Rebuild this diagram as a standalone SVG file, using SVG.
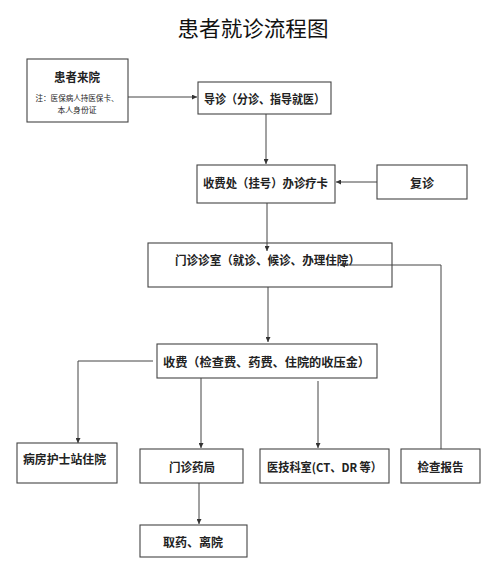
<svg xmlns="http://www.w3.org/2000/svg" width="500" height="574" viewBox="0 0 500 574">
<style>
.box{fill:#fff;stroke:#444;stroke-width:1.1}
.t{font-family:"Noto Sans CJK SC","Liberation Sans",sans-serif;font-size:12px;font-weight:bold;fill:#222;text-anchor:middle;dominant-baseline:central}
.n{font-family:"Noto Sans CJK SC","Liberation Sans",sans-serif;font-size:7.5px;fill:#222;text-anchor:middle;dominant-baseline:central}
.title{font-family:"Noto Sans CJK SC",sans-serif;font-size:21px;fill:#111;text-anchor:middle;dominant-baseline:central}
.c{fill:none;stroke:#444;stroke-width:1}
</style>
<defs>
<marker id="ah" viewBox="0 0 6 6" refX="6" refY="3" markerWidth="5" markerHeight="5" orient="auto" markerUnits="userSpaceOnUse">
<path d="M0,0 L6,3 L0,6 z" fill="#333"/>
</marker>
</defs>
<rect width="500" height="574" fill="#fff"/>
<text class="title" x="253" y="27" textLength="151" lengthAdjust="spacingAndGlyphs">患者就诊流程图</text>

<g id="n-arrive">
<rect class="box" x="27" y="59" width="101" height="63"/>
<text class="t" x="77" y="76" textLength="46" lengthAdjust="spacingAndGlyphs">患者来院</text>
<text class="n" x="77" y="97" textLength="83" lengthAdjust="spacingAndGlyphs">注：医保病人持医保卡、</text>
<text class="n" x="77" y="109" textLength="39" lengthAdjust="spacingAndGlyphs">本人身份证</text>
</g>
<g id="n-guide">
<rect class="box" x="198" y="82" width="133" height="32"/>
<text class="t" x="264.5" y="98" textLength="121" lengthAdjust="spacingAndGlyphs">导诊（分诊、指导就医）</text>
</g>
<g id="n-register">
<rect class="box" x="197" y="165" width="138" height="38"/>
<text class="t" x="265.5" y="182" textLength="125" lengthAdjust="spacingAndGlyphs">收费处（挂号）办诊疗卡</text>
</g>
<g id="n-revisit">
<rect class="box" x="377" y="165" width="90" height="34"/>
<text class="t" x="422" y="182">复诊</text>
</g>
<g id="n-clinic">
<rect class="box" x="148" y="243" width="244" height="44"/>
<text class="t" x="267.5" y="259" textLength="185" lengthAdjust="spacingAndGlyphs">门诊诊室（就诊、候诊、办理住院）</text>
</g>
<g id="n-pay">
<rect class="box" x="157" y="344" width="220" height="34"/>
<text class="t" x="266.5" y="361" textLength="207" lengthAdjust="spacingAndGlyphs">收费（检查费、药费、住院的收压金）</text>
</g>
<g id="n-ward">
<rect class="box" x="17" y="443" width="100" height="40"/>
<text class="t" x="64.5" y="458" textLength="83" lengthAdjust="spacingAndGlyphs">病房护士站住院</text>
</g>
<g id="n-pharmacy">
<rect class="box" x="140" y="449" width="103" height="34"/>
<text class="t" x="192" y="466" textLength="46" lengthAdjust="spacingAndGlyphs">门诊药局</text>
</g>
<g id="n-tech">
<rect class="box" x="260" y="449" width="129" height="34"/>
<text class="t" x="324.5" y="466" textLength="115" lengthAdjust="spacingAndGlyphs">医技科室(CT、DR 等）</text>
</g>
<g id="n-report">
<rect class="box" x="401" y="449" width="79" height="34"/>
<text class="t" x="440.5" y="466" textLength="46" lengthAdjust="spacingAndGlyphs">检查报告</text>
</g>
<g id="n-leave">
<rect class="box" x="140" y="525" width="107" height="32"/>
<text class="t" x="193" y="541" textLength="60" lengthAdjust="spacingAndGlyphs">取药、离院</text>
</g>

<g id="connectors">
<path class="c" d="M128,97 H197" marker-end="url(#ah)"/>
<path class="c" d="M266,114 V164" marker-end="url(#ah)"/>
<path class="c" d="M377,182 H336" marker-end="url(#ah)"/>
<path class="c" d="M267,203 V251" marker-end="url(#ah)"/>
<path class="c" d="M441,449 V265 H340" marker-end="url(#ah)"/>
<path class="c" d="M268,287 V342" marker-end="url(#ah)"/>
<path class="c" d="M153,361 H78 V443" marker-end="url(#ah)"/>
<path class="c" d="M201,378 V448" marker-end="url(#ah)"/>
<path class="c" d="M318,381 V448" marker-end="url(#ah)"/>
<path class="c" d="M199,483 V524" marker-end="url(#ah)"/>
</g>
</svg>
